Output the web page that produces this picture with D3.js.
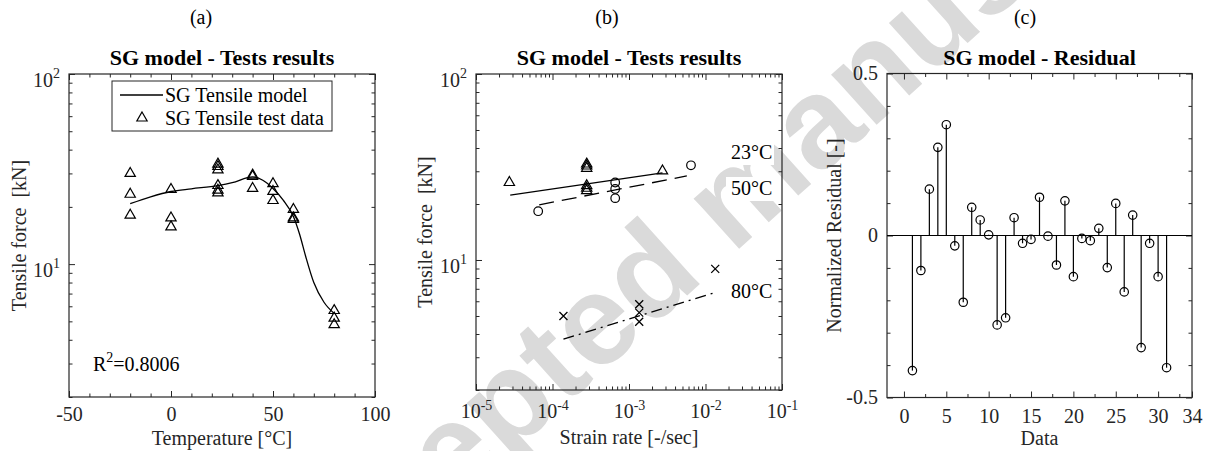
<!DOCTYPE html>
<html>
<head>
<meta charset="utf-8">
<script src="https://cdn.jsdelivr.net/npm/d3@7"></script>
<style>
body { margin: 0; background: #fff; }
svg { display: block; font-family: "Liberation Serif", "Times New Roman", serif; }
</style>
</head>
<body>
<svg width="1208" height="451"></svg>
<script>
// panel (a) - tensile force vs temperature
var tempTest = [-20, -20, -20, 0, 0, 0, 23, 23, 23, 23, 23, 23, 40, 40, 40, 50, 50, 50, 60, 60, 60, 80, 80, 80];
var forceTest = [30.0, 23.3, 18.1, 24.7, 17.5, 15.7, 33.6, 32.6, 31.3, 25.9, 24.5, 23.7, 29.4, 28.9, 25.0, 26.5, 24.1, 21.6, 19.4, 17.5, 17.2, 5.7, 5.2, 4.8];
var tempModel = [-20, -10, 0, 10, 23, 30, 40, 45, 50, 55, 60, 63, 66, 70, 75, 80];
var forceModel = [20.8, 22.6, 24.1, 24.9, 25.9, 26.8, 28.8, 27.6, 25.0, 21.7, 17.8, 14.4, 11.0, 8.0, 6.3, 5.5];

// panel (b) - tensile force vs strain rate
var rate23 = [2.73e-5, 2.8e-4, 2.8e-4, 2.8e-4, 2.8e-4, 2.8e-4, 2.8e-4, 2.74e-3];
var force23 = [26.1, 32.8, 32.0, 31.1, 25.1, 24.3, 23.6, 30.1];
var rate50 = [6.5e-5, 6.6e-4, 6.6e-4, 6.6e-4, 6.46e-3];
var force50 = [18.3, 26.1, 24.1, 21.5, 32.3];
var rate80 = [1.39e-4, 1.36e-3, 1.36e-3, 1.36e-3, 1.34e-2];
var force80 = [5.0, 5.78, 5.21, 4.66, 8.96];
var fitRate23 = [2.8e-5, 2.74e-3];
var fitForce23 = [22.3, 29.4];
var fitRate50 = [6.7e-5, 5.7e-3];
var fitForce50 = [19.8, 28.3];
var fitRate80 = [1.39e-4, 1.31e-2];
var fitForce80 = [3.75, 6.67];

// panel (c) - normalized residual
var residual = [-0.417, -0.108, 0.143, 0.272, 0.342, -0.032, -0.206, 0.087, 0.048, 0.002, -0.276, -0.254, 0.055, -0.024, -0.012, 0.118, -0.002, -0.091, 0.107, -0.127, -0.009, -0.016, 0.022, -0.099, 0.099, -0.174, 0.063, -0.346, -0.024, -0.127, -0.408];

// ticks
var tempTicks = [-50, 0, 50, 100];
var tempMinor = [-40, -30, -20, -10, 10, 20, 30, 40, 60, 70, 80, 90];
var forceTicks = [10, 100];
var forceMinor = [2, 3, 4, 5, 6, 7, 8, 9, 20, 30, 40, 50, 60, 70, 80, 90];
var rateTicks = [1e-5, 1e-4, 1e-3, 1e-2, 1e-1];
var rateMinor = [];
[1e-5, 1e-4, 1e-3, 1e-2].forEach(function (dec) {
    for (var k = 2; k <= 9; k++) rateMinor.push(k * dec);
});
var dataTicks = [0, 5, 10, 15, 20, 25, 30, 34];
var dataMinor = [2.5, 7.5, 12.5, 17.5, 22.5, 27.5, 32.5];
var residTicks = [-0.5, 0, 0.5];
var residMinor = [-0.4, -0.3, -0.2, -0.1, 0.1, 0.2, 0.3, 0.4];

var axisColor = "#262626";
var fontSize = 20;
var svg = d3.select("svg");

// watermark behind everything
svg.append("text")
    .attr("transform", "translate(278,664) rotate(-42)")
    .attr("font-family", "Liberation Sans, Arial, sans-serif")
    .attr("font-weight", "bold")
    .attr("font-size", 128)
    .attr("fill", "#dadada")
    .text("Accepted manuscript");

function plainFormat(d) { return String(d); }

function supLabels(sel, dy, supDy) {
    sel.selectAll(".tick text").each(function (d) {
        var t = d3.select(this);
        var e = Math.round(Math.log10(d));
        t.text("");
        if (dy) t.attr("dy", dy);
        t.append("tspan").text("10");
        t.append("tspan").attr("dy", supDy).attr("font-size", 14).text(String(e));
    });
}

// frame, inward ticks on four sides
function drawFrame(g, x, y, w, h, xMaj, xMin, yMaj, yMin, xPad) {
    var parts = [
        g.append("g").attr("transform", "translate(0," + h + ")")
            .call(d3.axisBottom(x).tickValues(xMaj).tickSizeInner(-6).tickSizeOuter(0).tickPadding(xPad).tickFormat(plainFormat)),
        g.append("g").attr("transform", "translate(0," + h + ")")
            .call(d3.axisBottom(x).tickValues(xMin).tickSizeInner(-3.5).tickSizeOuter(0).tickFormat("")),
        g.append("g")
            .call(d3.axisTop(x).tickValues(xMaj).tickSizeInner(-6).tickSizeOuter(0).tickFormat("")),
        g.append("g")
            .call(d3.axisTop(x).tickValues(xMin).tickSizeInner(-3.5).tickSizeOuter(0).tickFormat("")),
        g.append("g")
            .call(d3.axisLeft(y).tickValues(yMaj).tickSizeInner(-6).tickSizeOuter(0).tickPadding(9).tickFormat(plainFormat)),
        g.append("g")
            .call(d3.axisLeft(y).tickValues(yMin).tickSizeInner(-3.5).tickSizeOuter(0).tickFormat("")),
        g.append("g").attr("transform", "translate(" + w + ",0)")
            .call(d3.axisRight(y).tickValues(yMaj).tickSizeInner(-6).tickSizeOuter(0).tickFormat("")),
        g.append("g").attr("transform", "translate(" + w + ",0)")
            .call(d3.axisRight(y).tickValues(yMin).tickSizeInner(-3.5).tickSizeOuter(0).tickFormat(""))
    ];
    parts.forEach(function (p) {
        p.select(".domain").remove();
        p.selectAll("line").attr("stroke", axisColor).attr("stroke-width", 1);
        p.selectAll("text").attr("font-family", null).attr("font-size", fontSize).attr("fill", axisColor);
        p.attr("font-family", null).attr("font-size", null);
    });
    g.append("rect")
        .attr("width", w).attr("height", h)
        .attr("fill", "none")
        .attr("stroke", axisColor)
        .attr("stroke-width", 1.2);
    return { bottom: parts[0], left: parts[4] };
}

function addTexts(cx, cy, yLabelX, baseX, title, panelLabel, panelX, xLabel, yLabel) {
    svg.append("text").attr("x", panelX).attr("y", 24).attr("text-anchor", "middle")
        .attr("font-size", fontSize).text(panelLabel);
    svg.append("text").attr("x", cx).attr("y", 65).attr("text-anchor", "middle")
        .attr("font-size", 22).attr("font-weight", "bold").text(title);
    svg.append("text").attr("x", cx).attr("y", baseX).attr("text-anchor", "middle")
        .attr("font-size", fontSize).attr("fill", axisColor).text(xLabel);
    svg.append("text")
        .attr("transform", "translate(" + yLabelX + "," + cy + ") rotate(-90)")
        .attr("text-anchor", "middle")
        .attr("font-size", fontSize)
        .attr("fill", axisColor)
        .style("white-space", "pre")
        .text(yLabel);
}

var triangle = d3.symbol().type(d3.symbolTriangle).size(46);
var crossPath = "M-4,-4L4,4M-4,4L4,-4";

// ---------------- panel (a)
var wA = 306, hA = 323;
var gA = svg.append("g").attr("transform", "translate(69,74)");
var xA = d3.scaleLinear().domain([-50, 100]).range([0, wA]);
var yA = d3.scaleLog().domain([2, 100]).range([hA, 0]);
var axA = drawFrame(gA, xA, yA, wA, hA, tempTicks, tempMinor, forceTicks, forceMinor, 10);
supLabels(axA.left, "0.62em", -9);

gA.append("path")
    .datum(forceModel)
    .attr("fill", "none")
    .attr("stroke", "#000")
    .attr("stroke-width", 1.3)
    .attr("d", d3.line()
        .x(function (d, i) { return xA(tempModel[i]); })
        .y(function (d) { return yA(d); })
        .curve(d3.curveMonotoneX));

gA.selectAll(".tri")
    .data(forceTest)
    .enter()
    .append("path")
    .attr("class", "tri")
    .attr("transform", function (d, i) { return "translate(" + xA(tempTest[i]) + "," + yA(d) + ")"; })
    .attr("d", triangle)
    .attr("fill", "none")
    .attr("stroke", "#000")
    .attr("stroke-width", 1.2);

// legend
var legA = svg.append("g").attr("transform", "translate(112,81)");
legA.append("rect").attr("width", 220).attr("height", 50)
    .attr("fill", "#fff").attr("stroke", axisColor).attr("stroke-width", 1);
legA.append("line").attr("x1", 8).attr("x2", 51).attr("y1", 14).attr("y2", 14)
    .attr("stroke", "#000").attr("stroke-width", 1.3);
legA.append("path").attr("transform", "translate(30,37)").attr("d", triangle)
    .attr("fill", "none").attr("stroke", "#000").attr("stroke-width", 1.2);
legA.append("text").attr("x", 53).attr("y", 21).attr("font-size", fontSize).text("SG Tensile model");
legA.append("text").attr("x", 53).attr("y", 44).attr("font-size", fontSize).text("SG Tensile test data");

var r2 = svg.append("text").attr("x", 93).attr("y", 371).attr("font-size", fontSize);
r2.append("tspan").text("R");
r2.append("tspan").attr("dy", -9).attr("font-size", 14).text("2");
r2.append("tspan").attr("dy", 9).text("=0.8006");

addTexts(222, 235.5, 26, 445, "SG model - Tests results", "(a)", 201, "Temperature [°C]", "Tensile force  [kN]");

// ---------------- panel (b)
var wB = 306, hB = 316;
var gB = svg.append("g").attr("transform", "translate(476,74)");
var xB = d3.scaleLog().domain([1e-5, 1e-1]).range([0, wB]);
var yB = d3.scaleLog().domain([2, 100]).range([hB, 0]);
var axB = drawFrame(gB, xB, yB, wB, hB, rateTicks, rateMinor, forceTicks, forceMinor, 14);
supLabels(axB.left, "0.62em", -9);
supLabels(axB.bottom, null, -8);

function fitLine(rates, forces, dash) {
    gB.append("path")
        .datum(forces)
        .attr("fill", "none")
        .attr("stroke", "#000")
        .attr("stroke-width", 1.3)
        .attr("stroke-dasharray", dash)
        .attr("d", d3.line()
            .x(function (d, i) { return xB(rates[i]); })
            .y(function (d) { return yB(d); }));
}
fitLine(fitRate23, fitForce23, null);
fitLine(fitRate50, fitForce50, "15,8");
fitLine(fitRate80, fitForce80, "11,5,2,5");

gB.selectAll(".tri")
    .data(force23)
    .enter()
    .append("path")
    .attr("class", "tri")
    .attr("transform", function (d, i) { return "translate(" + xB(rate23[i]) + "," + yB(d) + ")"; })
    .attr("d", triangle)
    .attr("fill", "none")
    .attr("stroke", "#000")
    .attr("stroke-width", 1.2);

gB.selectAll(".circ")
    .data(force50)
    .enter()
    .append("circle")
    .attr("class", "circ")
    .attr("cx", function (d, i) { return xB(rate50[i]); })
    .attr("cy", function (d) { return yB(d); })
    .attr("r", 4.3)
    .attr("fill", "none")
    .attr("stroke", "#000")
    .attr("stroke-width", 1.2);

gB.selectAll(".cross")
    .data(force80)
    .enter()
    .append("path")
    .attr("class", "cross")
    .attr("transform", function (d, i) { return "translate(" + xB(rate80[i]) + "," + yB(d) + ")"; })
    .attr("d", crossPath)
    .attr("stroke", "#000")
    .attr("stroke-width", 1.3);

// temperature labels with white background
[["23°C", 159], ["50°C", 195], ["80°C", 298]].forEach(function (lab) {
    svg.append("rect").attr("x", 726).attr("y", lab[1] - 18).attr("width", 48).attr("height", 24).attr("fill", "#fff");
    svg.append("text").attr("x", 731).attr("y", lab[1]).attr("font-size", fontSize).text(lab[0]);
});

addTexts(629, 232, 432, 444, "SG model - Tests results", "(b)", 607, "Strain rate [-/sec]", "Tensile force  [kN]");

// ---------------- panel (c)
var wC = 305, hC = 324;
var gC = svg.append("g").attr("transform", "translate(887,73.5)");
var xC = d3.scaleLinear().domain([-2, 34]).range([0, wC]);
var yC = d3.scaleLinear().domain([-0.5, 0.5]).range([hC, 0]);
drawFrame(gC, xC, yC, wC, hC, dataTicks, dataMinor, residTicks, residMinor, 11);

gC.append("line")
    .attr("x1", 0).attr("x2", wC)
    .attr("y1", yC(0)).attr("y2", yC(0))
    .attr("stroke", "#000").attr("stroke-width", 1.2);

gC.selectAll(".stem")
    .data(residual)
    .enter()
    .append("line")
    .attr("class", "stem")
    .attr("x1", function (d, i) { return xC(i + 1); })
    .attr("x2", function (d, i) { return xC(i + 1); })
    .attr("y1", yC(0))
    .attr("y2", function (d) { return yC(d); })
    .attr("stroke", "#000")
    .attr("stroke-width", 1.2);

gC.selectAll(".head")
    .data(residual)
    .enter()
    .append("circle")
    .attr("class", "head")
    .attr("cx", function (d, i) { return xC(i + 1); })
    .attr("cy", function (d) { return yC(d); })
    .attr("r", 4.2)
    .attr("fill", "none")
    .attr("stroke", "#000")
    .attr("stroke-width", 1.2);

addTexts(1039.5, 235.5, 841, 445, "SG model - Residual", "(c)", 1025, "Data", "Normalized Residual [-]");
</script>
</body>
</html>
